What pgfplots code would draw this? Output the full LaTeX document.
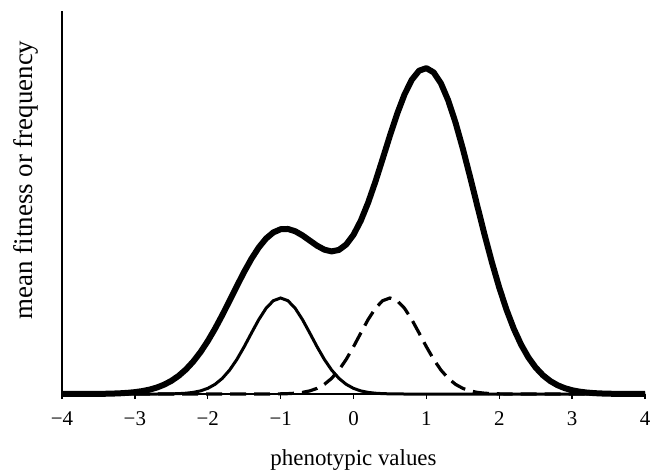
\documentclass[border=0pt]{standalone}
\usepackage{fontspec}
\setmainfont{Liberation Serif}
\usepackage{pgfplots}
\pgfplotsset{compat=1.18}
\begin{document}
\begin{tikzpicture}
\begin{axis}[
  name=ax,
  scale only axis,
  width=583bp, height=383bp,
  xmin=-4, xmax=4, ymin=0, ymax=383,
  axis x line*=bottom, axis y line*=left,
  axis line style={line width=1.6bp, black},
  clip=false,
  xtick={-4,-3,-2,-1,0,1,2,3,4},
  xticklabels={−4,−3,−2,−1,0,1,2,3,4},
  ytick=\empty,
  tick align=outside,
  major tick length=5bp,
  xtick style={line width=1.4bp, black},
  xticklabel style={font=\fontsize{21}{21}\selectfont, anchor=base, yshift=-26bp},
  xlabel={phenotypic values},
  ylabel={mean fitness or frequency},
  xlabel style={font=\fontsize{23}{23}\selectfont, at={(axis description cs:0.5,0)}, anchor=base, yshift=-71bp},
  ylabel style={font=\fontsize{27}{27}\selectfont, at={(axis description cs:-0.062,0.559)}, anchor=center},
]
% thin solid: frequency distribution centred at -1
\addplot[black, line width=3bp] coordinates {
(-4,0) (-2.7,0) (-2.6,0.07) (-2.5,0.16) (-2.4,0.37) (-2.3,0.80) (-2.2,1.62) (-2.1,3.11) (-2.0,5.64) (-1.9,9.67) (-1.8,15.65) (-1.7,23.94) (-1.6,34.60) (-1.5,47.26) (-1.4,61.00) (-1.3,74.38) (-1.2,85.71) (-1.1,93.32) (-1.0,96) (-0.9,93.32) (-0.8,85.71) (-0.7,74.38) (-0.6,61.00) (-0.5,47.26) (-0.4,34.60) (-0.3,23.94) (-0.2,15.65) (-0.1,9.67) (0,5.64) (0.1,3.11) (0.2,1.62) (0.3,0.80) (0.4,0.37) (0.5,0.16) (0.6,0.07) (0.7,0) (4,0)
};
% dashed: frequency distribution centred at 0.5
\addplot[black, line width=3.2bp, dash pattern=on 16bp off 8bp] coordinates {
(-4,0) (-1.2,0) (-1.1,0.07) (-1.0,0.16) (-0.9,0.37) (-0.8,0.80) (-0.7,1.62) (-0.6,3.11) (-0.5,5.64) (-0.4,9.67) (-0.3,15.65) (-0.2,23.94) (-0.1,34.60) (0,47.26) (0.1,61.00) (0.2,74.38) (0.3,85.71) (0.4,93.32) (0.5,96) (0.6,93.32) (0.7,85.71) (0.8,74.38) (0.9,61.00) (1.0,47.26) (1.1,34.60) (1.2,23.94) (1.3,15.65) (1.4,9.67) (1.5,5.64) (1.6,3.11) (1.7,1.62) (1.8,0.80) (1.9,0.37) (2.0,0.16) (2.1,0.07) (2.2,0) (4,0)
};
% thick: mean fitness
\addplot[black, line width=6bp, line join=round] coordinates {
(-4.0,0.01) (-3.9,0.01) (-3.8,0.03) (-3.7,0.05) (-3.6,0.09) (-3.5,0.15) (-3.4,0.26) (-3.3,0.44) (-3.2,0.73) (-3.1,1.18)
(-3.0,1.87) (-2.9,2.89) (-2.8,4.36) (-2.7,6.44) (-2.6,9.30) (-2.5,13.13) (-2.4,18.14) (-2.3,24.51) (-2.2,32.38) (-2.1,41.84)
(-2.0,52.87) (-1.9,65.34) (-1.8,78.98) (-1.7,93.38) (-1.6,107.99) (-1.5,122.18) (-1.4,135.25) (-1.3,146.53) (-1.2,155.47) (-1.1,161.60)
(-1.0,164.76) (-0.9,165.03) (-0.8,162.77) (-0.7,158.60) (-0.6,153.44) (-0.5,148.30) (-0.4,144.33) (-0.3,142.60) (-0.2,144.09) (-0.1,149.50)
(0.0,159.23) (0.1,173.28) (0.2,191.22) (0.3,212.23) (0.4,235.13) (0.5,258.39) (0.6,280.41) (0.7,299.53) (0.8,314.24) (0.9,323.30)
(1.0,325.87) (1.1,321.59) (1.2,310.61) (1.3,293.53) (1.4,271.37) (1.5,245.41) (1.6,217.08) (1.7,187.77) (1.8,158.87) (1.9,131.45)
(2.0,106.38) (2.1,84.19) (2.2,65.16) (2.3,49.32) (2.4,36.51) (2.5,26.43) (2.6,18.72) (2.7,12.96) (2.8,8.78) (2.9,5.81)
(3.0,3.76) (3.1,2.38) (3.2,1.48) (3.3,0.89) (3.4,0.53) (3.5,0.31) (3.6,0.17) (3.7,0.10) (3.8,0.05) (3.9,0.03) (4.0,0.01)
};
\end{axis}
\pgfresetboundingbox
\path[use as bounding box] ([xshift=-62bp,yshift=-78bp]ax.south west) rectangle ([xshift=15bp,yshift=11bp]ax.north east);
\end{tikzpicture}
\end{document}
